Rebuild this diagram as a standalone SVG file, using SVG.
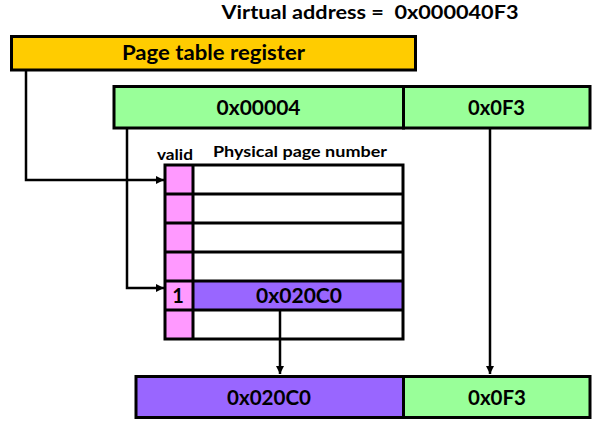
<svg xmlns="http://www.w3.org/2000/svg" width="599" height="429" viewBox="0 0 599 429">
<style>
.box{stroke:#000;stroke-width:3}
.t{font-family:Lato,"Open Sans","Liberation Sans",sans-serif;font-weight:bold;fill:#000;text-anchor:middle}
.ln{fill:none;stroke:#000;stroke-width:2.5}
</style>
<defs>
<marker id="ah" markerUnits="userSpaceOnUse" markerWidth="10" markerHeight="10" refX="8" refY="5" orient="auto">
<path d="M0,1 L8,5 L0,9 Z" fill="#000"/>
</marker>
</defs>
<rect width="599" height="429" fill="#fff"/>
<g id="title">
<text class="t" x="370" y="19" font-size="19" textLength="297" lengthAdjust="spacingAndGlyphs" xml:space="preserve">Virtual address =  0x000040F3</text>
</g>
<g id="connectors">
<path class="ln" d="M26,70 V180 H164" marker-end="url(#ah)"/>
<path class="ln" d="M127,128 V288 H164" marker-end="url(#ah)"/>
<path class="ln" d="M490,128 V374" marker-end="url(#ah)"/>
<path class="ln" d="M280,310 V374" marker-end="url(#ah)"/>
</g>
<g id="ptr">
<rect class="box" x="11.5" y="36.5" width="404" height="33.5" fill="#FFCC00"/>
<text class="t" x="213.5" y="60" font-size="20" textLength="183" lengthAdjust="spacingAndGlyphs">Page table register</text>
</g>
<g id="vaddr">
<rect class="box" x="114" y="86.5" width="289.5" height="41.5" fill="#99FF99"/>
<rect class="box" x="403.5" y="86.5" width="186.5" height="41.5" fill="#99FF99"/>
<text class="t" x="258.5" y="115" font-size="21" textLength="84" lengthAdjust="spacingAndGlyphs">0x00004</text>
<text class="t" x="496.5" y="115" font-size="21" textLength="57" lengthAdjust="spacingAndGlyphs">0x0F3</text>
</g>
<g id="pagetable">
<text class="t" x="175" y="160" font-size="15" textLength="36" lengthAdjust="spacingAndGlyphs">valid</text>
<text class="t" x="300" y="157" font-size="15" textLength="174" lengthAdjust="spacingAndGlyphs">Physical page number</text>
<rect x="165" y="165" width="28" height="174" fill="#FF99FF"/>
<rect x="193" y="281" width="210" height="29" fill="#9966FF"/>
<rect class="box" x="165" y="165" width="238" height="174" fill="none"/>
<path class="box" fill="none" d="M193,165 V339 M165,194 H403 M165,223 H403 M165,252 H403 M165,281 H403 M165,310 H403"/>
<text class="t" x="178" y="303" font-size="20">1</text>
<text class="t" x="299" y="303" font-size="20" textLength="86" lengthAdjust="spacingAndGlyphs">0x020C0</text>
</g>
<g id="paddr">
<rect class="box" x="136" y="376.5" width="267.5" height="41" fill="#9966FF"/>
<rect class="box" x="403.5" y="376.5" width="186.5" height="41" fill="#99FF99"/>
<text class="t" x="269" y="405" font-size="21" textLength="84" lengthAdjust="spacingAndGlyphs">0x020C0</text>
<text class="t" x="497" y="405" font-size="21" textLength="58" lengthAdjust="spacingAndGlyphs">0x0F3</text>
</g>
</svg>
